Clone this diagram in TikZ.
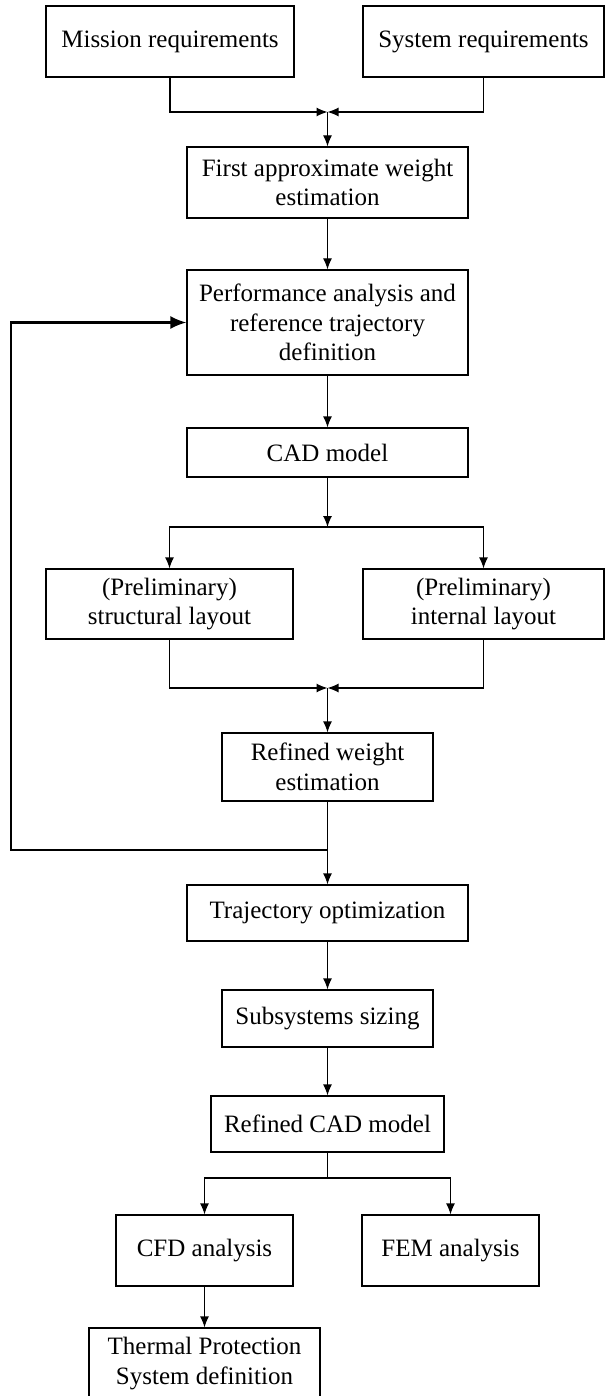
\documentclass[tikz,border=0pt]{standalone}
\usepackage{fontspec}
\setmainfont{Liberation Serif}
\usetikzlibrary{arrows.meta,positioning}
\tikzstyle{block} = [draw=black,line width=1.2pt,rectangle,align=center,inner sep=0pt,
    font=\fontsize{25}{29.5}\selectfont]
\tikzstyle{arrow} = [line width=1.2pt,->,>={Latex[length=11pt,width=9pt]},draw=black]
\tikzstyle{feedback} = [line width=2.2pt,->,>={Latex[length=16pt,width=13pt]},draw=black]

\begin{document}
\begin{tikzpicture}[x=1pt,y=-1pt]
    \useasboundingbox (0,0) rectangle (605,1396);

    \node[block,minimum width=248,minimum height=71] (mission) at (170,41.5)   {Mission requirements};
    \node[block,minimum width=241,minimum height=71] (system)  at (483.5,41.5) {System requirements};
    \node[block,minimum width=281,minimum height=71] (firstw)  at (327.5,182.5) {First approximate weight\\estimation};
    \node[block,minimum width=281,minimum height=105] (perf)   at (327.5,322.5) {Performance analysis and\\reference trajectory\\definition};
    \node[block,minimum width=281,minimum height=49] (cad)     at (327.5,452.5) {CAD model};
    \node[block,minimum width=247,minimum height=70] (structl) at (169.5,604)  {(Preliminary)\\structural layout};
    \node[block,minimum width=241,minimum height=70] (internl) at (483.5,604)  {(Preliminary)\\internal layout};
    \node[block,minimum width=211,minimum height=68] (refw)    at (327.5,767)  {Refined weight\\estimation};
    \node[block,minimum width=281,minimum height=56] (trajopt) at (327.5,913)  {Trajectory optimization};
    \node[block,minimum width=211,minimum height=57] (subsys)  at (327.5,1018.5) {Subsystems sizing};
    \node[block,minimum width=233,minimum height=56] (refcad)  at (327.5,1124) {Refined CAD model};
    \node[block,minimum width=177,minimum height=71] (cfd)     at (204.5,1250.5) {CFD analysis};
    \node[block,minimum width=177,minimum height=71] (fem)     at (450.5,1250.5) {FEM analysis};
    \node[block,minimum width=231,minimum height=71] (tps)     at (204.5,1363.5) {Thermal Protection\\System definition};

    % junction points
    \coordinate (merge1) at (327.5,112);
    \coordinate (split1) at (327.5,527);
    \coordinate (merge2) at (327.5,688);
    \coordinate (join)   at (327.5,850);
    \coordinate (back)   at (11,850);
    \coordinate (split2) at (327.5,1178);

    \draw[arrow] (mission.south) |- (merge1);
    \draw[arrow] (system.south) |- (merge1);
    \draw[arrow] (merge1) -- (firstw.north);
    \draw[arrow] (firstw) -- (perf);
    \draw[arrow] (perf) -- (cad);
    \draw[arrow] (cad) -- (split1);
    \draw[arrow] (split1) -| (structl.north);
    \draw[arrow] (split1) -| (internl.north);
    \draw[arrow] (structl.south) |- (merge2);
    \draw[arrow] (internl.south) |- (merge2);
    \draw[arrow] (merge2) -- (refw.north);
    \draw[line width=1.2pt] (refw.south) -- (join);
    \draw[arrow] (join) -- (trajopt.north);
    \draw[feedback] (join) -- (back) |- (perf.west);
    \draw[arrow] (trajopt) -- (subsys);
    \draw[arrow] (subsys) -- (refcad);
    \draw[line width=1.2pt] (refcad.south) -- (split2);
    \draw[arrow] (split2) -| (cfd.north);
    \draw[arrow] (split2) -| (fem.north);
    \draw[arrow] (cfd) -- (tps);

\end{tikzpicture}
\end{document}
